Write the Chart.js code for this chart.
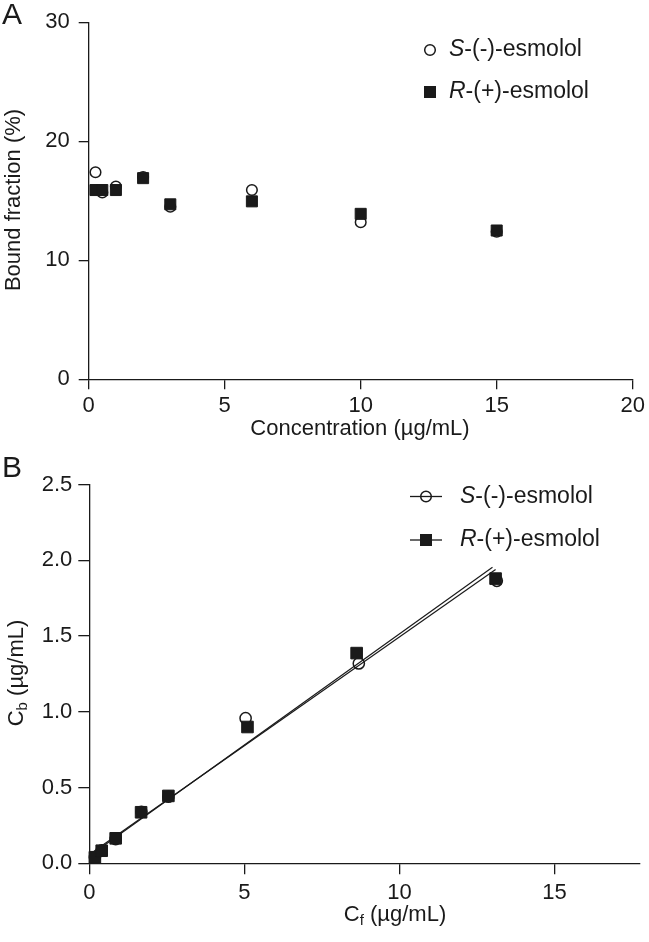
<!DOCTYPE html>
<html><head><meta charset="utf-8">
<script src="https://cdn.jsdelivr.net/npm/chart.js@4/dist/chart.umd.min.js"></script>
<style>
html,body{margin:0;padding:0;background:#fff;overflow:hidden;}
#cA{position:absolute;left:0;top:0;}
#cB{position:absolute;left:0;top:450px;}
</style></head><body>
<canvas id="cA" width="649" height="450"></canvas>
<canvas id="cB" width="649" height="492"></canvas>
<script>
// ---- Panel A data ----
const concA = [0.25, 0.5, 1, 2, 3, 6, 10, 15];
const boundS = [17.4, 15.7, 16.2, 17.0, 14.5, 15.9, 13.2, 12.4];
const boundR = [15.9, 15.9, 15.9, 16.9, 14.7, 14.95, 13.9, 12.5];
const xTicksA = [0, 5, 10, 15, 20];
const yTicksA = [0, 10, 20, 30];

// ---- Panel B data ----
const cfS = [0.18, 0.4, 0.85, 1.68, 2.55, 5.04, 8.69, 13.14];
const cbS = [0.04, 0.085, 0.16, 0.34, 0.44, 0.958, 1.32, 1.865];
const cfR = [0.18, 0.4, 0.85, 1.67, 2.55, 5.1, 8.62, 13.1];
const cbR = [0.04, 0.083, 0.165, 0.337, 0.445, 0.90, 1.388, 1.88];
const fitXS = [0.15, 13.0];
const fitYS = [0.07, 1.955];
const fitXR = [0.15, 13.1];
const fitYR = [0.08, 1.94];
const xTicksB = [0, 5, 10, 15];
const yTicksB = [0, 0.5, 1.0, 1.5, 2.0, 2.5];

const FONT = 'Liberation Sans, Arial, Helvetica, sans-serif';
const INK = '#1a1a1a';
const TICK_SIZE = 22;
const TITLE_SIZE = 22;
const LEG_SIZE = 23;
const pts = (xs, ys) => xs.map((x, i) => ({x: x, y: ys[i]}));

function axisCfg(min, max, tickArr, fmt, isY, fixedSize, tickLen, pad) {
  return {
    type: 'linear', min: min, max: max,
    afterBuildTicks: s => { s.ticks = tickArr.map(v => ({value: v})); },
    afterFit: s => { if (isY) s.width = fixedSize; else s.height = fixedSize; },
    grid: {display: true, drawOnChartArea: false, drawTicks: true, tickLength: tickLen, color: INK, lineWidth: 1.3},
    border: {display: true, color: INK, width: 1.3},
    ticks: {color: INK, font: {family: FONT, size: TICK_SIZE}, padding: pad, autoSkip: false, maxRotation: 0, callback: fmt},
    title: {display: false}
  };
}

function legendMarker(ctx, type, x, y, withLine) {
  ctx.save();
  ctx.strokeStyle = INK; ctx.fillStyle = INK;
  if (withLine) {
    ctx.lineWidth = 1.3;
    ctx.beginPath(); ctx.moveTo(x - 16, y); ctx.lineTo(x + 16, y); ctx.stroke();
  }
  if (type === 'circle') {
    ctx.lineWidth = 1.5;
    ctx.beginPath(); ctx.arc(x, y, 5.3, 0, Math.PI * 2);
    ctx.stroke();
  } else {
    ctx.fillRect(x - 6, y - 6, 12, 12);
  }
  ctx.restore();
}
function legendText(ctx, x, y, italicPart, rest) {
  ctx.save();
  ctx.fillStyle = INK; ctx.textBaseline = 'middle'; ctx.textAlign = 'left';
  ctx.font = 'italic ' + LEG_SIZE + 'px ' + FONT;
  ctx.fillText(italicPart, x, y);
  const w = ctx.measureText(italicPart).width;
  ctx.font = LEG_SIZE + 'px ' + FONT;
  ctx.fillText(rest, x + w, y);
  ctx.restore();
}
function subText(ctx, main, sub, rest, cx, cy) {
  const big = TITLE_SIZE + 'px ' + FONT, small = '15px ' + FONT;
  ctx.font = big;
  const w1 = ctx.measureText(main).width;
  const w3 = ctx.measureText(rest).width;
  ctx.font = small;
  const w2 = ctx.measureText(sub).width;
  let x = cx - (w1 + w2 + w3) / 2;
  ctx.textAlign = 'left'; ctx.textBaseline = 'middle'; ctx.fillStyle = INK;
  ctx.font = big; ctx.fillText(main, x, cy); x += w1;
  ctx.font = small; ctx.fillText(sub, x, cy + 6); x += w2;
  ctx.font = big; ctx.fillText(rest, x, cy);
}

const decorA = {
  id: 'decorA',
  afterDraw(chart) {
    const ctx = chart.ctx;
    ctx.save();
    ctx.fillStyle = INK;
    ctx.font = '30px ' + FONT; ctx.textBaseline = 'top'; ctx.textAlign = 'left';
    ctx.fillText('A', 2, 1);
    ctx.font = TITLE_SIZE + 'px ' + FONT; ctx.textAlign = 'center'; ctx.textBaseline = 'middle';
    ctx.fillText('Concentration (\u00b5g/mL)', 360, 429);
    ctx.save(); ctx.translate(14, 200); ctx.rotate(-Math.PI / 2);
    ctx.fillText('Bound fraction (%)', 0, 0); ctx.restore();
    ctx.restore();
    legendMarker(ctx, 'circle', 430, 50, false);
    legendText(ctx, 449, 50, 'S', '-(-)-esmolol');
    legendMarker(ctx, 'rect', 430, 92, false);
    legendText(ctx, 449, 92, 'R', '-(+)-esmolol');
  }
};

const decorB = {
  id: 'decorB',
  afterDraw(chart) {
    const ctx = chart.ctx;
    ctx.save();
    ctx.fillStyle = INK;
    ctx.font = '30px ' + FONT; ctx.textBaseline = 'top'; ctx.textAlign = 'left';
    ctx.fillText('B', 2, 4);
    subText(ctx, 'C', 'f', ' (\u00b5g/mL)', 395, 465);
    ctx.save(); ctx.translate(17, 223); ctx.rotate(-Math.PI / 2);
    subText(ctx, 'C', 'b', ' (\u00b5g/mL)', 0, 0); ctx.restore();
    ctx.restore();
    legendMarker(ctx, 'circle', 426, 46.5, true);
    legendText(ctx, 460, 46.5, 'S', '-(-)-esmolol');
    legendMarker(ctx, 'rect', 426, 90, true);
    legendText(ctx, 460, 90, 'R', '-(+)-esmolol');
  }
};

const commonOpts = {
  responsive: false, animation: false, devicePixelRatio: 1,
  plugins: {legend: {display: false}, tooltip: {enabled: false}}
};

new Chart(document.getElementById('cA'), {
  type: 'scatter',
  data: {datasets: [
    {label: 'R-(+)-esmolol', data: pts(concA, boundR), pointStyle: 'rect', pointRadius: 7.8,
     backgroundColor: INK, borderColor: INK, borderWidth: 1, clip: false},
    {label: 'S-(-)-esmolol', data: pts(concA, boundS), pointStyle: 'circle', pointRadius: 5.3,
     backgroundColor: 'rgba(0,0,0,0)', borderColor: INK, borderWidth: 1.5, clip: false}
  ]},
  options: Object.assign({}, commonOpts, {
    layout: {padding: {top: 21.3, right: 16.3, left: 0, bottom: 0}},
    scales: {
      x: axisCfg(0, 20, xTicksA, v => String(v), false, 70.7, 10, 3),
      y: axisCfg(0, 30, yTicksA, v => String(v), true, 88.7, 10, 9)
    }
  }),
  plugins: [decorA]
});

new Chart(document.getElementById('cB'), {
  type: 'scatter',
  data: {datasets: [
    {label: 'R-(+)-esmolol', data: pts(cfR, cbR), pointStyle: 'rect', pointRadius: 8.2,
     backgroundColor: INK, borderColor: INK, borderWidth: 1, clip: false},
    {label: 'S-(-)-esmolol', data: pts(cfS, cbS), pointStyle: 'circle', pointRadius: 5.6,
     backgroundColor: 'rgba(0,0,0,0)', borderColor: INK, borderWidth: 1.5, clip: false},
    {type: 'line', label: 'fit S', data: pts(fitXS, fitYS), showLine: true, pointRadius: 0,
     borderColor: INK, borderWidth: 1.2, fill: false},
    {type: 'line', label: 'fit R', data: pts(fitXR, fitYR), showLine: true, pointRadius: 0,
     borderColor: INK, borderWidth: 1.2, fill: false}
  ]},
  options: Object.assign({}, commonOpts, {
    layout: {padding: {top: 34.7, right: 3, left: 0, bottom: 0}},
    scales: {
      x: axisCfg(0, 17.75, xTicksB, v => String(v), false, 78.7, 11, 5),
      y: axisCfg(0, 2.5, yTicksB, v => Number(v).toFixed(1), true, 89.3, 11, 6)
    }
  }),
  plugins: [decorB]
});
</script>
</body></html>
